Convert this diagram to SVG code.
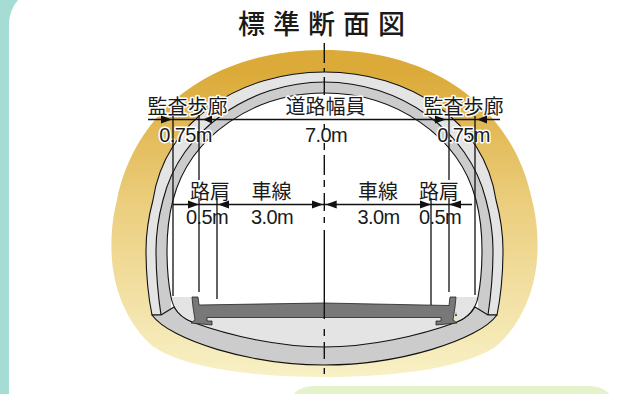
<svg xmlns="http://www.w3.org/2000/svg" width="627" height="394" viewBox="0 0 627 394">
<style>
.o{stroke:#111;stroke-width:1.1;stroke-linejoin:round}
.dl{stroke:#111;stroke-width:1.3;fill:none}
.a{fill:#111}
text{fill:#1a1a1a;text-anchor:middle;font-family:"Noto Sans CJK JP","Liberation Sans",sans-serif}
.j{font-size:20px;paint-order:stroke;stroke:#fff;stroke-width:3px;stroke-linejoin:round}
.n{font-family:"Liberation Sans",sans-serif;font-size:20px;letter-spacing:-.6px;paint-order:stroke;stroke:#fff;stroke-width:3px;stroke-linejoin:round}
</style>
<defs>
<linearGradient id="g" x1="0" y1="50" x2="0" y2="377" gradientUnits="userSpaceOnUse"><stop offset="0.06" stop-color="#dbaa38"/><stop offset="0.46" stop-color="#ebcd7c"/><stop offset="1" stop-color="#f8f1c6"/></linearGradient>
</defs>
<rect width="627" height="394" fill="#a5dcd3"/>
<path d="M9 394V25Q9 10 18 0H627V394Z" fill="#fff"/>
<rect x="289" y="386" width="325" height="40" rx="24" fill="#e4f3cc"/>
<g id="ground"><path fill="url(#g)" d="M324.500 50C210 50 135 112 117 200C113 215 111 233 111.500 250C112 285 125 320 150 344C178 367 250 377 324.500 377C399 377 471 367 499 344C524 320 537 285 537.500 250C538 233 536 215 532 200C514 112 439 50 324.500 50Z"/></g>
<g id="tunnel">
<path class="o" fill="#e4e4e4" d="M324.500 72C240 72 165 120 153 200C149 215 146 232 146 250C146 275 148 295 152 315H497C501 295 503 275 503 250C503 232 500 215 496 200C484 120 409 72 324.500 72Z"/>
<path class="o" fill="#ccc" d="M324.500 82C250 82 180 130 163 200C159 215 156 232 156 250C156 275 158 295 161 315H488C491 295 493 275 493 250C493 232 490 215 486 200C469 130 399 82 324.500 82Z"/>
<path fill="#fff" d="M171 297C168 282 167 270 167 250C167 232 169 215 173 200C190 135 255 93 324.500 93C394 93 459 135 476 200C480 215 482 232 482 250C482 270 481 282 478 297V312H171Z"/>
<path class="o" fill="none" d="M171 297C168 282 167 270 167 250C167 232 169 215 173 200C190 135 255 93 324.500 93C394 93 459 135 476 200C480 215 482 232 482 250C482 270 481 282 478 297"/>
<path fill="#e4e4e4" d="M171 297H193V322H192C181 318 173 309 171 297ZM478 297H455V322H457C467 318 476 309 478 297ZM192 312H457V322C419 336 369 347 324.500 347C280 347 230 336 192 322Z"/>
<path class="o" fill="none" d="M171 297C173 309 181 318 192 322M478 297C476 309 467 318 457 322"/>
<path class="o" fill="#ccc" d="M152 315H161L174 307C178 314 184 319 192 322C230 336 280 347 324.500 347C369 347 419 336 457 322C465 319 471 314 475 307L488 315H497C479 340 399 365 324.500 365C250 365 170 340 152 315Z"/>
<path id="road" fill="#787878" stroke="#222" stroke-width=".8" stroke-linejoin="round" d="M192 297H198L199 305L324 303L449 305.500L450 297H456L455 307L453 320L457 323L436 325V321H441V317.500H207V321H212V325L191 323L195 320L193 307Z"/>
</g>
<g id="labels">
<text x="325.500" y="34" font-size="27" font-weight="500" letter-spacing="8">標準断面図</text>
<text class="j" x="187.500" y="114">監査歩廊</text>
<text class="j" x="325.500" y="114">道路幅員</text>
<text class="j" x="463.500" y="114">監査歩廊</text>
<text class="n" x="185.500" y="142">0.75m</text>
<text class="n" x="326" y="142">7.0m</text>
<text class="n" x="463.500" y="142">0.75m</text>
<text class="j" x="210" y="198.500">路肩</text>
<text class="j" x="271.500" y="198.500">車線</text>
<text class="j" x="378" y="198.500">車線</text>
<text class="j" x="439" y="198.500">路肩</text>
<text class="n" x="207" y="224">0.5m</text>
<text class="n" x="272" y="224">3.0m</text>
<text class="n" x="378.500" y="224">3.0m</text>
<text class="n" x="440" y="224">0.5m</text>
</g>
<g id="connectors">
<path class="dl" d="M173 116V296M199 115V180M199 198V292M217 198V299M449 115V180M449 198V292M475 116V295M431 198V305"/>
<path d="M324.300 43V63M324.300 68V72M324.300 77V95M324.300 124V130M324.300 143V150M324.300 155V175M324.300 180V187M324.300 193V211M324.300 217V223M324.300 230V319M324.300 329V336M324.300 342V359M324.300 368V374" stroke="#111" stroke-width="1.4" fill="none"/>
<path class="dl" d="M148 119.500H500M173 204.500H472"/>
<path class="a" d="M172 119.500L161 115.500V123.500ZM203 119.500L212 115.500V123.500ZM446 119.500L435 115.500V123.500ZM477 119.500L487 115.500V123.500ZM199 204.500L188 200.500V208.500ZM218 204.500L229 200.500V208.500ZM323 204.500L312 200.500V208.500ZM325.700 204.500L336.700 200.500V208.500ZM431 204.500L420 200.500V208.500ZM449 204.500L461 200.500V208.500Z"/>
</g>
</svg>
